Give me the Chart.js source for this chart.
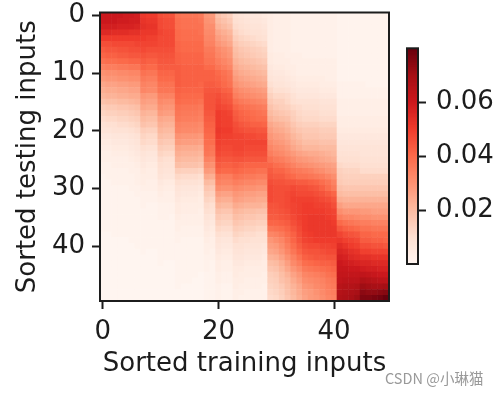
<!DOCTYPE html>
<html>
<head>
<meta charset="utf-8">
<script src="https://cdn.jsdelivr.net/npm/chart.js@4"></script>
<style>
    html, body { margin: 0; padding: 0; background: #fff; }
    #stage { position: relative; width: 500px; height: 394px; overflow: hidden; }
    canvas { position: absolute; filter: blur(0.5px); }
    #mark { position: absolute; left: 385px; top: 368px; font: 14.5px "Noto Sans CJK SC", "Noto Sans", sans-serif; color: #999; white-space: nowrap; line-height: 20px; }
</style>
</head>
<body>
<div id="stage">
    <canvas id="heatChart" width="500" height="394" style="left:0;top:0"></canvas>
    <canvas id="barChart" width="100" height="394" style="left:400px;top:0"></canvas>
    <div id="mark">CSDN @小琳猫</div>
</div>
<script>
// Attention weights, in units of 0.001, one line per testing input
const heatValues = [
[60,60,60,60,59,59,58,51,50,50,46,45,45,38,37,37,37,36,29,28,18,16,14,9,8,7,6,6,5,4,3,3,3,2,2,2,2,2,2,2,2,1,1,1,1,1,1,1,1,1],
[60,60,60,59,59,58,58,52,51,51,47,46,46,39,38,38,38,37,30,29,20,18,16,10,9,8,7,7,6,4,3,3,3,2,2,2,2,2,2,2,2,1,1,1,1,1,1,1,1,1],
[58,58,58,57,57,57,56,53,52,52,47,46,46,39,38,38,38,38,31,31,22,20,18,11,10,9,8,8,7,4,3,3,3,2,2,2,2,2,2,2,2,1,1,1,1,1,1,1,1,1],
[55,55,54,54,54,53,53,51,51,51,48,47,47,40,39,39,39,38,32,32,25,23,21,13,11,10,9,9,8,4,3,3,3,2,2,2,2,2,2,2,2,1,1,1,1,1,1,1,1,1],
[50,50,50,50,50,50,50,50,49,49,47,47,47,40,39,39,39,39,33,33,27,25,23,15,13,12,11,10,9,4,3,3,3,2,2,2,2,2,2,2,2,1,1,1,1,1,1,1,1,1],
[46,46,47,47,47,47,48,48,48,48,47,47,47,41,40,40,40,40,34,34,29,27,25,17,15,14,13,12,11,4,3,3,3,2,2,2,2,2,2,2,2,1,1,1,1,1,1,1,1,1],
[43,44,44,45,45,46,46,47,46,46,46,46,46,41,40,40,40,40,36,36,32,30,28,19,17,16,15,14,13,4,3,3,3,2,2,2,2,2,2,2,2,1,1,1,1,1,1,1,1,1],
[41,42,42,43,43,44,44,45,44,44,45,45,45,42,41,41,41,41,37,37,33,31,29,20,18,17,16,15,14,5,4,4,3,3,3,2,2,2,2,2,2,1,1,1,1,1,1,1,1,1],
[38,39,39,40,40,41,41,43,42,42,44,44,44,42,41,41,41,41,38,38,35,33,31,22,20,19,18,17,16,5,4,4,4,3,3,3,3,3,3,3,3,1,1,1,1,1,1,1,1,1],
[34,35,35,36,36,37,37,41,40,40,43,43,43,43,42,42,42,42,40,40,37,35,33,24,22,21,20,19,18,6,5,5,4,4,3,3,3,3,3,3,3,1,1,1,1,1,1,1,1,1],
[30,31,31,32,32,33,33,38,37,37,41,41,41,43,42,42,42,42,42,42,40,38,36,26,24,23,22,21,20,7,6,6,5,4,3,3,3,3,3,3,3,1,1,1,1,1,1,1,1,1],
[28,29,29,30,30,31,31,36,35,35,40,40,40,43,42,42,42,42,42,42,41,39,37,28,26,25,24,23,22,8,7,7,6,5,4,4,4,4,4,3,3,1,1,1,1,1,1,1,1,1],
[25,26,26,27,27,28,28,34,33,33,38,38,38,43,42,42,42,41,43,43,42,40,38,30,28,27,26,25,24,10,8,8,7,6,5,5,5,5,4,4,4,2,2,2,2,2,1,1,1,1],
[23,24,24,25,25,26,26,33,32,32,37,37,37,42,41,41,41,41,44,44,44,42,41,33,31,30,29,28,27,12,10,10,9,7,6,6,6,6,5,5,5,2,2,2,2,2,2,2,2,2],
[21,22,22,23,23,24,24,29,28,28,34,34,34,41,40,40,40,40,45,45,46,44,43,35,33,32,31,30,29,14,12,12,11,9,7,7,7,7,6,6,6,2,2,2,2,2,2,2,2,2],
[18,19,19,20,20,21,22,27,26,26,32,31,31,40,39,39,39,38,45,45,47,45,44,38,36,35,34,33,32,16,14,14,12,10,9,9,9,9,8,8,8,3,3,3,3,3,3,3,3,3],
[15,16,16,17,17,18,19,25,24,24,30,29,29,38,37,37,37,36,45,45,48,47,46,41,39,38,37,36,35,18,16,15,14,12,11,10,10,10,9,9,9,3,3,3,3,3,3,3,3,3],
[13,14,14,15,15,16,17,22,21,21,28,27,27,37,36,36,36,35,44,44,50,49,48,43,41,40,39,38,37,20,18,17,16,14,12,11,11,11,10,10,10,3,3,3,3,3,3,3,3,3],
[11,12,12,13,13,14,15,20,19,19,25,24,24,36,35,35,35,34,43,43,50,49,49,44,42,41,40,39,39,22,20,19,18,15,13,12,12,12,11,11,11,4,4,4,4,4,4,4,4,4],
[9,10,10,11,11,12,13,18,17,17,23,22,22,34,33,33,33,32,42,42,50,49,49,46,44,43,42,42,41,25,23,22,20,17,15,14,14,14,13,13,13,4,4,4,4,4,4,4,4,4],
[8,8,9,9,9,10,11,15,14,14,21,20,20,33,32,32,32,31,41,41,51,50,50,47,46,45,45,44,44,27,25,24,22,19,17,16,16,16,15,15,15,5,5,5,5,5,5,5,5,5],
[6,6,7,7,7,8,9,13,12,12,19,18,18,30,29,29,29,28,40,40,50,49,49,48,48,47,47,46,46,29,27,26,24,21,19,17,17,17,16,16,16,6,6,6,6,6,6,6,6,6],
[5,5,6,6,6,7,8,12,11,11,17,16,16,28,27,27,27,26,39,39,49,48,48,48,48,48,48,48,48,31,29,28,26,23,21,19,19,19,18,18,18,7,7,7,7,7,7,7,7,7],
[4,4,5,5,5,6,7,10,9,9,15,14,14,25,24,24,24,23,38,37,48,47,47,48,48,47,47,47,47,33,31,30,28,25,23,21,21,21,20,20,20,8,8,8,8,8,8,8,8,8],
[3,3,4,4,4,5,6,8,7,7,13,12,12,23,22,22,22,21,37,36,47,46,46,47,47,46,46,46,46,35,33,32,30,28,26,25,24,24,23,22,21,9,9,9,9,8,8,8,8,8],
[3,3,3,3,3,4,5,7,6,6,11,10,10,21,20,20,20,19,34,33,45,44,44,45,45,44,44,44,44,38,36,35,33,31,29,28,27,26,25,24,23,10,10,10,10,9,9,9,9,9],
[2,2,3,3,3,3,4,6,5,5,10,9,9,19,18,18,18,17,31,30,43,42,42,43,42,41,41,41,41,41,39,38,36,34,32,31,30,29,28,27,26,12,11,11,11,10,10,10,10,10],
[2,2,2,2,2,3,3,5,4,4,9,8,8,15,14,14,14,13,28,27,41,40,40,41,40,39,39,38,38,43,41,41,39,37,36,35,34,32,31,29,28,14,13,13,13,11,11,11,11,11],
[1,2,2,2,2,2,3,4,4,4,8,7,7,12,11,11,11,10,24,23,36,35,35,38,37,36,36,35,35,44,43,43,41,40,38,38,37,36,35,33,31,15,14,14,14,14,14,14,14,14],
[1,1,2,2,2,2,3,4,3,3,6,5,5,10,9,9,9,8,20,19,34,33,33,35,34,33,33,32,32,46,45,45,44,44,43,43,42,41,39,37,34,16,15,15,15,15,15,15,15,15],
[1,1,1,1,1,2,2,3,3,3,5,4,4,8,7,7,7,6,17,16,31,30,30,32,31,30,30,29,29,47,46,46,46,47,46,46,45,44,42,39,36,18,17,17,17,17,17,17,17,17],
[1,1,1,1,1,1,2,2,2,2,4,3,3,7,6,6,6,5,15,14,27,26,26,29,28,27,27,26,26,47,46,46,47,48,47,47,47,46,45,43,41,20,19,19,19,19,19,19,19,19],
[1,1,1,1,1,1,1,2,2,2,3,3,3,6,5,5,5,4,13,12,24,23,23,27,26,25,25,24,24,47,46,46,47,49,49,49,49,48,47,46,44,23,22,22,22,22,22,22,22,22],
[1,1,1,1,1,1,1,2,1,1,2,2,2,5,4,4,4,4,11,10,21,20,20,24,23,22,22,22,21,45,45,46,47,48,49,50,50,49,49,48,46,27,25,25,25,25,25,25,25,25],
[1,1,1,1,1,1,1,1,1,1,2,2,2,5,4,4,4,3,10,9,18,17,17,21,20,19,19,18,18,44,44,45,46,48,49,50,50,50,50,49,48,31,29,29,29,28,28,27,27,27],
[1,1,1,1,1,1,1,1,1,1,2,2,1,4,3,3,3,3,8,7,16,15,15,19,18,17,17,16,16,43,43,44,45,47,49,50,51,51,51,50,49,35,33,33,32,31,31,30,30,30],
[1,1,1,1,1,1,1,1,1,1,1,1,1,3,3,3,3,3,7,6,14,13,13,17,16,15,15,14,14,41,41,42,43,46,48,50,51,51,51,51,50,40,38,37,36,35,35,34,34,34],
[1,1,1,1,1,1,1,1,1,1,1,1,1,3,2,2,2,2,6,5,12,11,11,15,14,13,13,12,12,37,38,39,41,44,47,50,51,51,51,51,51,44,42,41,40,38,38,37,37,37],
[0,0,1,1,1,1,1,1,1,1,1,1,1,2,2,2,2,2,5,4,10,9,9,13,12,11,11,10,10,33,34,36,39,42,46,49,50,51,51,51,51,48,46,45,44,41,41,40,40,40],
[0,0,0,0,0,1,1,1,1,1,1,1,1,2,1,1,1,1,4,3,8,7,7,11,10,10,9,9,9,29,31,33,37,41,45,48,49,50,50,50,50,51,49,48,47,43,43,42,42,41],
[0,0,0,0,0,0,1,1,1,1,1,1,1,1,1,1,1,1,3,3,7,6,6,9,9,8,8,8,7,27,28,31,35,39,43,46,47,47,48,48,49,54,52,50,49,46,46,45,45,44],
[0,0,0,0,0,0,0,1,0,0,1,1,1,1,1,1,1,1,3,2,6,5,5,8,8,7,7,7,6,25,26,29,33,37,41,44,45,45,46,47,47,56,55,53,52,49,49,48,48,48],
[0,0,0,0,0,0,0,0,0,0,1,1,1,1,1,1,1,1,2,2,5,4,4,7,7,6,6,6,5,22,23,26,30,34,38,42,43,44,44,45,45,58,57,55,54,53,53,52,52,52],
[0,0,0,0,0,0,0,0,0,0,1,0,0,1,1,1,1,1,2,1,4,3,3,6,6,5,5,5,4,19,20,23,27,32,35,39,40,41,42,42,43,60,59,58,57,56,56,55,55,55],
[0,0,0,0,0,0,0,0,0,0,0,0,0,1,1,1,1,1,2,1,4,3,3,5,5,4,4,4,4,17,18,21,25,29,32,36,37,38,39,40,41,61,61,60,60,59,58,58,57,57],
[0,0,0,0,0,0,0,0,0,0,0,0,0,1,1,1,1,0,1,1,3,2,2,5,4,4,4,4,3,15,16,19,22,26,29,33,34,35,36,38,39,62,62,62,62,63,62,61,60,60],
[0,0,0,0,0,0,0,0,0,0,0,0,0,1,1,1,0,0,1,1,3,2,2,4,4,3,3,3,3,14,15,18,20,24,27,31,32,33,34,36,37,63,64,64,64,67,66,65,64,64],
[0,0,0,0,0,0,0,0,0,0,0,0,0,1,0,0,0,0,1,1,2,1,1,4,3,3,3,3,2,13,14,16,19,22,25,29,30,32,33,35,36,65,66,66,67,71,70,69,69,70],
[0,0,0,0,0,0,0,0,0,0,0,0,0,0,0,0,0,0,1,1,2,1,1,3,3,2,2,2,2,12,13,15,18,21,24,27,28,30,32,34,35,66,67,68,69,74,73,73,74,75],
[0,0,0,0,0,0,0,0,0,0,0,0,0,0,0,0,0,0,1,1,2,1,1,3,2,2,2,2,2,11,12,14,17,20,23,26,28,29,31,33,34,67,68,69,71,76,76,77,78,80]
];
const xTickValues = [0, 20, 40];
const yTickValues = [0, 10, 20, 30, 40];
const barTickValues = [0.02, 0.04, 0.06];
const xAxisTitle = 'Sorted training inputs';
const yAxisTitle = 'Sorted testing inputs';

// Matplotlib "Reds" anchors
const reds = [[255,245,240],[254,224,210],[252,187,161],[252,146,114],[251,106,74],[239,59,44],[203,24,29],[165,15,21],[103,0,13]];
const maxWeight = 0.08;
const inkColor = '#1c1c1c';
const fontName = '"DejaVu Sans"';
const fontSize = 26;

function redsColor(v) {
    const t = Math.min(Math.max(v / maxWeight, 0), 1) * (reds.length - 1);
    const i = Math.min(Math.floor(t), reds.length - 2);
    const f = t - i;
    const c = reds[i].map((a, k) => Math.round(a + (reds[i + 1][k] - a) * f));
    return `rgb(${c[0]},${c[1]},${c[2]})`;
}

// Frame around the plot area, the axes only give two sides
const framePlugin = {
    id: 'frame',
    afterDatasetsDraw(chart) {
        const { ctx, chartArea: a } = chart;
        ctx.save();
        ctx.strokeStyle = inkColor;
        ctx.lineWidth = 2;
        ctx.strokeRect(a.left, a.top, a.right - a.left, a.bottom - a.top);
        ctx.restore();
    }
};

// Tick labels must not push the plot area inwards
function clearScalePadding(scale) {
    scale.paddingTop = 0;
    scale.paddingBottom = 0;
    scale.paddingLeft = 0;
    scale.paddingRight = 0;
}

function axisBase(ticks, pad) {
    return {
        afterBuildTicks: (scale) => { scale.ticks = ticks.map(v => ({ value: v })); },
        grid: { drawOnChartArea: false, drawTicks: true, tickLength: 8, tickWidth: 2, tickColor: inkColor },
        border: { display: false },
        ticks: { color: inkColor, font: { family: fontName, size: fontSize }, maxRotation: 0, autoSkip: false, padding: pad }
    };
}

function createHeatChart() {
    const points = [];
    const colors = [];
    heatValues.forEach((row, y) => {
        row.forEach((value, x) => {
            points.push({ x: x, y: y });
            colors.push(redsColor(value / 1000));
        });
    });

    new Chart(document.getElementById('heatChart').getContext('2d'), {
        type: 'scatter',
        data: {
            datasets: [{
                data: points,
                pointStyle: 'rect',
                pointRadius: 4.5,
                pointBorderWidth: 0,
                pointBackgroundColor: colors,
                clip: 0
            }]
        },
        options: {
            responsive: false,
            animation: false,
            layout: { padding: { left: 13, top: 12.5, right: 111, bottom: 14 } },
            plugins: { legend: { display: false }, tooltip: { enabled: false } },
            scales: {
                x: {
                    ...axisBase(xTickValues, 8),
                    min: -0.5,
                    max: 49.5,
                    afterFit: (scale) => { scale.height = 79; clearScalePadding(scale); },
                    title: { display: true, text: xAxisTitle, color: inkColor, font: { family: fontName, size: fontSize }, padding: 0 }
                },
                y: {
                    ...axisBase(yTickValues, 7),
                    reverse: true,
                    min: -0.5,
                    max: 49.5,
                    afterFit: (scale) => { scale.width = 87; clearScalePadding(scale); },
                    title: { display: true, text: yAxisTitle, color: inkColor, font: { family: fontName, size: fontSize }, padding: 0 }
                }
            }
        },
        plugins: [framePlugin]
    });
}

function createBarChart() {
    // Nested bars from 0 up to each level, the first dataset is painted last
    const levels = [];
    for (let i = 1; i <= 160; i++) levels.push(i * 0.0005);
    const datasets = levels.map(level => ({
        data: [level],
        backgroundColor: redsColor(level - 0.00025),
        barPercentage: 1,
        categoryPercentage: 1,
        grouped: false
    }));

    new Chart(document.getElementById('barChart').getContext('2d'), {
        type: 'bar',
        data: { labels: [''], datasets: datasets },
        options: {
            responsive: false,
            animation: false,
            layout: { padding: { left: 7, top: 48.3, right: 0, bottom: 130 } },
            plugins: { legend: { display: false }, tooltip: { enabled: false } },
            scales: {
                x: { display: false },
                y: {
                    ...axisBase(barTickValues, 10),
                    position: 'right',
                    min: 0,
                    max: maxWeight,
                    afterFit: (scale) => { scale.width = 82; clearScalePadding(scale); }
                }
            }
        },
        plugins: [framePlugin]
    });
}

createHeatChart();
createBarChart();
</script>
</body>
</html>
